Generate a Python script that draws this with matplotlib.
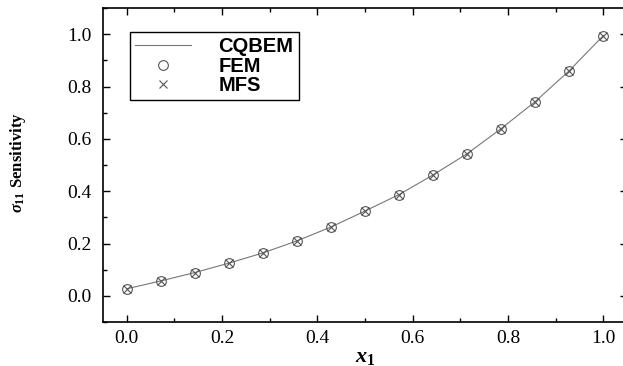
import numpy as np
import matplotlib
matplotlib.use("Agg")
import matplotlib.pyplot as plt
from matplotlib.ticker import MultipleLocator

plt.rcParams['mathtext.fontset'] = 'custom'
plt.rcParams['mathtext.it'] = 'Liberation Serif:italic:bold'
plt.rcParams['mathtext.rm'] = 'Liberation Serif:bold'
plt.rcParams['mathtext.bf'] = 'Liberation Serif:bold'

# Data
x1 = np.arange(15) / 14.0
cqbem = [0.027, 0.057, 0.089, 0.125, 0.164, 0.210, 0.263, 0.324,
         0.387, 0.462, 0.543, 0.639, 0.742, 0.860, 0.994]
fem = cqbem
mfs = cqbem

xticks = [0.0, 0.2, 0.4, 0.6, 0.8, 1.0]
yticks = [0.0, 0.2, 0.4, 0.6, 0.8, 1.0]

W, H = 623, 366
fig = plt.figure(figsize=(W / 100, H / 100), dpi=100)
ax = fig.add_axes([103 / W, (H - 322) / H, (627 - 103) / W, (322 - 8) / H])

gray = '#555555'
ax.plot(x1, cqbem, '-', color='#777777', lw=0.8, label='CQBEM')
ax.plot(x1, fem, 'o', ls='none', mfc='none', mec=gray, ms=7, mew=0.8, label='FEM')
ax.plot(x1, mfs, 'x', ls='none', color=gray, ms=6, mew=0.8, label='MFS')

ax.set_xlim(-0.05, 1.05)
ax.set_ylim(-0.1, 1.1)
ax.set_xticks(xticks)
ax.set_yticks(yticks)
ax.xaxis.set_minor_locator(MultipleLocator(0.1))
ax.yaxis.set_minor_locator(MultipleLocator(0.1))
ax.tick_params(which='both', direction='in', top=True, right=True, width=1.0)
ax.tick_params(which='major', length=5)
ax.tick_params(which='minor', length=3)
ax.tick_params(axis='y', which='major', labelsize=14, pad=8)
ax.tick_params(axis='x', which='major', labelsize=14, pad=6)
for lab in ax.get_xticklabels() + ax.get_yticklabels():
    lab.set_fontfamily('Liberation Serif')
for s in ax.spines.values():
    s.set_linewidth(1.2)

ax.set_xlabel(r'$x_1$', fontsize=16)
ax.xaxis.set_label_coords((365 - 103) / 524, -(347 - 322) / 314)
ax.set_ylabel(r'$\sigma_{11}$ Sensitivity', fontsize=12, fontweight='bold',
              family='Liberation Serif')
ax.yaxis.set_label_coords(-(103 - 28) / 524, (322 - 163) / 314)

leg = ax.legend(loc='upper left', bbox_to_anchor=(27 / 524, 1 - 24 / 314),
                borderaxespad=0, fancybox=False, edgecolor='black',
                framealpha=1, handlelength=2.8, handletextpad=1.35,
                labelspacing=0.03, borderpad=0.25,
                prop={'family': 'Liberation Sans', 'weight': 'bold', 'size': 14.5})
leg.get_frame().set_linewidth(1.0)

fig.savefig('out.png', dpi=100)
